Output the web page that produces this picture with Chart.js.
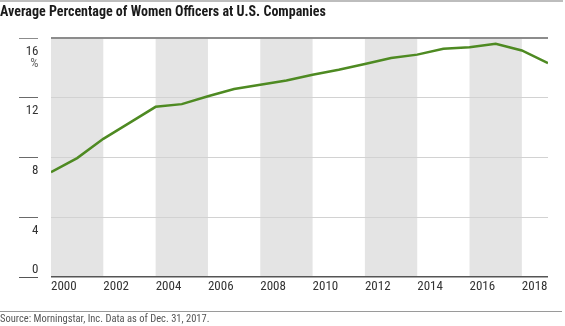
<!DOCTYPE html>
<html>
<head>
<meta charset="utf-8">
<script src="https://cdn.jsdelivr.net/npm/chart.js@4.4.1/dist/chart.umd.min.js"></script>
<style>
  html, body { margin: 0; padding: 0; background: #fff; }
  #wrap { width: 565px; height: 326px; position: relative; }
</style>
</head>
<body>
<div id="wrap"><canvas id="chart" width="565" height="326"></canvas></div>
<script>
// Average share of officer positions held by women, per year
const years = [2000, 2001, 2002, 2003, 2004, 2005, 2006, 2007, 2008, 2009,
               2010, 2011, 2012, 2013, 2014, 2015, 2016, 2017, 2018, 2019];
const womenOfficersPct = [7.0, 7.94, 9.23, 10.3, 11.37, 11.55, 12.08, 12.56, 12.85, 13.13,
                          13.52, 13.85, 14.23, 14.63, 14.86, 15.26, 15.35, 15.59, 15.14, 14.3];

// Axis ticks
const xTickYears = [2000, 2002, 2004, 2006, 2008, 2010, 2012, 2014, 2016, 2018];
const yTickValues = [0, 4, 8, 12, 16];

// Shaded two-year bands (start years)
const bandStartYears = [2000, 2004, 2008, 2012, 2016];
const bandSpanYears = 2;

const titleText = 'Average Percentage of Women Officers at U.S. Companies';
const sourceText = 'Source: Morningstar, Inc. Data as of Dec. 31, 2017.';
const unitText = '%';

const FONT = "'Liberation Sans Narrow', 'Roboto Condensed', 'Arial Narrow', 'DejaVu Sans Condensed', sans-serif";
Chart.defaults.font.family = FONT;

function gridColor(v) {
  if (v === 16) return '#8c8c8c';
  if (v === 0) return '#555555';
  return '#d2d2d2';
}
function gridWidth(v) {
  if (v === 16) return 2;
  if (v === 0) return 1.5;
  return 1;
}

const decorPlugin = {
  id: 'decor',
  beforeDraw(chart) {
    const { ctx, chartArea, scales } = chart;
    ctx.save();
    ctx.fillStyle = '#ffffff';
    ctx.fillRect(0, 0, chart.width, chart.height);
    // alternating bands
    ctx.fillStyle = '#e4e4e4';
    bandStartYears.forEach(start => {
      const x0 = scales.x.getPixelForValue(start);
      const x1 = scales.x.getPixelForValue(start + bandSpanYears);
      ctx.fillRect(x0, chartArea.top, x1 - x0, chartArea.bottom - chartArea.top);
    });
    ctx.restore();
  },
  afterDraw(chart) {
    const { ctx, scales } = chart;
    const y = scales.y;
    ctx.save();
    // top rule
    ctx.strokeStyle = '#bdbdbd';
    ctx.lineWidth = 2;
    ctx.beginPath();
    ctx.moveTo(0, 1);
    ctx.lineTo(563, 1);
    ctx.stroke();
    // rule above source line
    ctx.strokeStyle = '#9a9a9a';
    ctx.lineWidth = 1;
    ctx.beginPath();
    ctx.moveTo(0, 311.5);
    ctx.lineTo(562, 311.5);
    ctx.stroke();

    // y-axis tick marks and labels on the left
    ctx.textAlign = 'right';
    ctx.textBaseline = 'middle';
    yTickValues.forEach(v => {
      const py = Math.round(y.getPixelForValue(v)) + 0.5;
      ctx.strokeStyle = gridColor(v) === '#d2d2d2' ? '#6a6a6a' : gridColor(v);
      ctx.lineWidth = 1;
      ctx.beginPath();
      ctx.moveTo(19, py);
      ctx.lineTo(38, py);
      ctx.stroke();
      ctx.fillStyle = '#333333';
      ctx.font = '13px ' + FONT;
      const ly = v === 0 ? py - 8 : py + 13;
      ctx.fillText(String(v), 38.5, ly);
    });
    ctx.fillStyle = '#666666';
    ctx.font = '13px ' + FONT;
    ctx.fillText(unitText, 38.5, y.getPixelForValue(16) + 26);
    ctx.restore();
  }
};

new Chart(document.getElementById('chart'), {
  type: 'line',
  data: {
    datasets: [{
      data: years.map((yr, i) => ({ x: yr, y: womenOfficersPct[i] })),
      borderColor: '#4e8a22',
      borderWidth: 2.5,
      pointRadius: 0,
      tension: 0,
      fill: false
    }]
  },
  options: {
    responsive: false,
    animation: false,
    events: [],
    layout: { padding: { left: 0, right: 17, top: 0, bottom: 0 } },
    plugins: {
      legend: { display: false },
      tooltip: { enabled: false },
      title: {
        display: true,
        text: titleText,
        align: 'start',
        color: '#1a1a1a',
        font: { size: 14, weight: 'bold', family: FONT, lineHeight: 1.2 },
        padding: { top: 4, bottom: 16.8 }
      },
      subtitle: {
        display: true,
        position: 'bottom',
        text: sourceText,
        align: 'start',
        color: '#555555',
        font: { size: 10.5, family: FONT, lineHeight: 1.2 },
        padding: { top: 6, bottom: 0 }
      }
    },
    scales: {
      x: {
        type: 'linear',
        min: 2000,
        max: 2019,
        afterBuildTicks: axis => { axis.ticks = xTickYears.map(v => ({ value: v })); },
        afterFit: axis => { axis.height = 30.6; },
        grid: { display: false, drawTicks: false },
        border: { display: false },
        ticks: {
          align: 'start',
          autoSkip: false,
          maxRotation: 0,
          padding: 2,
          color: '#333333',
          font: { size: 13, family: FONT },
          callback: v => String(v)
        }
      },
      y: {
        min: 0,
        max: 16,
        afterBuildTicks: axis => { axis.ticks = yTickValues.map(v => ({ value: v })); },
        afterFit: axis => { axis.width = 51; },
        border: { display: false },
        grid: {
          drawTicks: false,
          color: c => gridColor(c.tick.value),
          lineWidth: c => gridWidth(c.tick.value)
        },
        ticks: { display: false }
      }
    }
  },
  plugins: [decorPlugin]
});
</script>
</body>
</html>
